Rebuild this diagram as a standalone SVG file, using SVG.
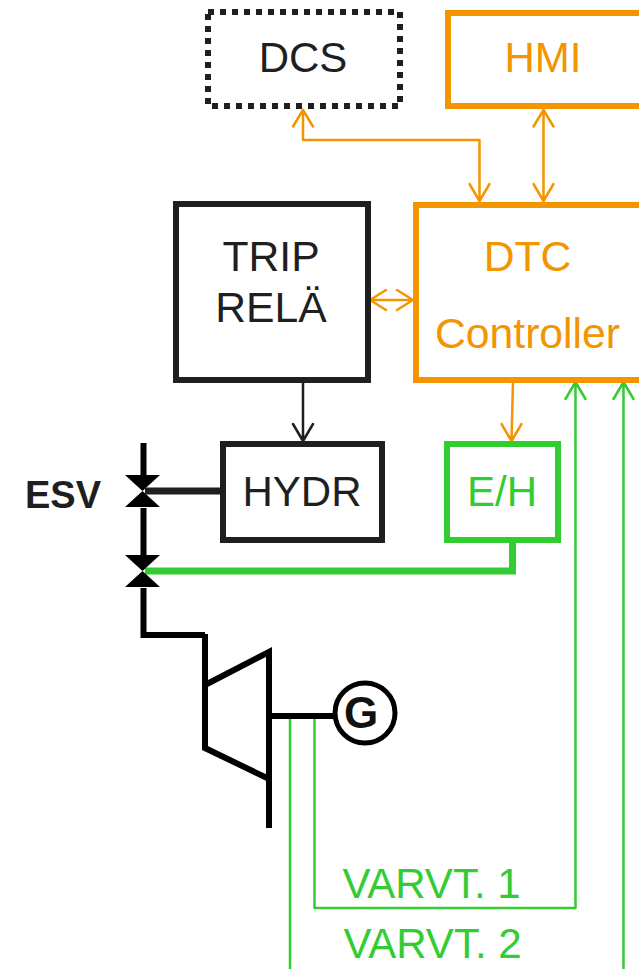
<svg xmlns="http://www.w3.org/2000/svg" width="639" height="969" viewBox="0 0 639 969">
<style>
text{font-family:"Liberation Sans",Arial,sans-serif;font-size:42px;text-anchor:middle}
.w{font-size:42.7px}
.k{fill:#1f1f1f}.o{fill:#f29500}.g{fill:#33cc33}
.box{fill:#fff;stroke-width:6}
.ok{stroke:#1f1f1f}.oo{stroke:#f29500}.og{stroke:#33cc33}
.c{fill:none;stroke-linejoin:miter}
.a{fill:none;stroke-width:2.5;stroke-linecap:round;stroke-linejoin:round}
.t{fill:none;stroke:#000;stroke-width:6}
</style>
<rect width="639" height="969" fill="#fff"/>
<g id="connectors">
<path class="a oo" d="M303 110V140H479.500V200M293 126.500L303 110L313 126.500M469.500 184L479.500 201L489.500 184"/>
<path class="a oo" d="M543.500 110V200M533.500 126.500L543.500 110L553.500 126.500M533.500 184L543.500 201L553.500 184"/>
<path class="a oo" d="M370 300H413M386 290L370 300L386 310M397 290L413 300L397 310"/>
<path class="a ok" d="M303 381V441M293 424L303 441L313 424"/>
<path class="a oo" d="M513 382L511.500 440M501.500 424L511.500 441L521.500 424"/>
<path class="a og" d="M290 717V969M314.500 717V908H575.500V382M565.500 399L575.500 382L585.500 399M623.500 969V382M613.500 399L623.500 382L633.500 399"/>
<path class="c ok" stroke-width="7" d="M145 491H223"/>
<path class="c og" stroke-width="7" d="M145 571H512.500V540"/>
<path class="t" d="M143.500 443V475M143.500 508V555M143.500 588V635H205"/>
</g>
<g id="esv-valve"><path fill="#000" d="M125 475H160L125 507H160Z"/></g>
<g id="control-valve"><path fill="#000" d="M125 555H160L125 587H160Z"/></g>
<g id="turbine">
<path class="t" d="M205 634V748L269 779V652L205 685M269 779V828M269 716H335"/>
</g>
<g id="dcs"><rect class="box ok" x="208" y="12" width="192" height="94" stroke-dasharray="6 6"/><text class="k" x="303" y="72">DCS</text></g>
<g id="hmi"><rect class="box oo" x="448" y="13" width="200" height="93"/><text class="o" x="543" y="72">HMI</text></g>
<g id="trip"><rect class="box ok" x="176" y="204" width="192" height="176"/><text class="k w" x="271" y="271">TRIP</text><text class="k w" x="271" y="322">RELÄ</text></g>
<g id="dtc"><rect class="box oo" x="416" y="205" width="232" height="175"/><text class="o w" x="527.500" y="271">DTC</text><text class="o w" x="527.500" y="348">Controller</text></g>
<g id="hydr"><rect class="box ok" x="223" y="444" width="159" height="96"/><text class="k" x="302" y="506">HYDR</text></g>
<g id="eh"><rect class="box og" x="447" y="444" width="111" height="96"/><text class="g" x="502" y="506">E/H</text></g>
<g id="esv-label"><text class="k" x="63" y="508" style="font-weight:700;font-size:38px">ESV</text></g>
<g id="generator"><circle cx="365" cy="713" r="30" fill="#fff" stroke="#000" stroke-width="5"/><text x="361" y="728" style="font-weight:700;font-size:44px;fill:#111">G</text></g>
<g id="labels"><text class="g" x="431.500" y="898">VARVT. 1</text><text class="g" x="432.500" y="958">VARVT. 2</text></g>
</svg>
